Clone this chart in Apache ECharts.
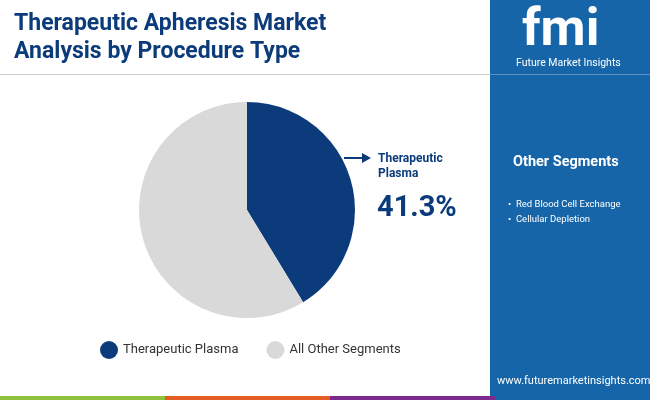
<!DOCTYPE html><html><head><meta charset="utf-8">
<script src="https://cdn.jsdelivr.net/npm/echarts@6/dist/echarts.min.js"></script>
<style>html,body{margin:0;padding:0;}#c{width:650px;height:400px;}</style></head><body><div id="c"></div>
<script>
const categories = ["Therapeutic Plasma", "All Other Segments"];
const values = [41.3, 58.7];
const otherSegments = ["Red Blood Cell Exchange", "Cellular Depletion"];
const colors = ["#0b3b7a", "#d9d9d9"];
const navy = "#0b3b7a", panel = "#1565a8";
const chart = echarts.init(document.getElementById('c'));
chart.setOption({
  animation:false,
  legend:{bottom:36,left:95,icon:'circle',itemWidth:18,itemHeight:18,itemGap:28,
    textStyle:{fontFamily:'Roboto',fontSize:13,color:'#333'},data:categories},
  series:[{type:'pie',center:[247,210],radius:[0,108],startAngle:90,clockwise:true,
    label:{show:false},labelLine:{show:false},silent:true,
    data:categories.map((n,i)=>({name:n,value:values[i],itemStyle:{color:colors[i]}}))}],
  graphic:[
    {type:'rect',shape:{x:490,y:0,width:160,height:400},style:{fill:panel},z:-1},
    {type:'rect',shape:{x:0,y:396,width:165,height:4},style:{fill:'#8dc13f'}},
    {type:'rect',shape:{x:165,y:396,width:165,height:4},style:{fill:'#e35d25'}},
    {type:'rect',shape:{x:330,y:396,width:165,height:4},style:{fill:'#7b2b8e'}},
    {type:'rect',shape:{x:0,y:74,width:490,height:1},style:{fill:'#cccccc'}},
    {type:'text',left:14,top:10,style:{text:'Therapeutic Apheresis Market\nAnalysis by Procedure Type',fontFamily:'Roboto',fontWeight:'bold',fontSize:23,lineHeight:28,fill:navy}},
    {type:'text',left:522,top:6,style:{text:'fmi',fontFamily:'Roboto',fontWeight:'bold',fontSize:52,fill:'#fff'}},
    {type:'text',left:516,top:58,style:{text:'Future Market Insights',fontFamily:'Roboto',fontSize:10.5,fill:'#fff'}},
    {type:'rect',shape:{x:490,y:74,width:160,height:1},style:{fill:'#5a8fc4'}},
    {type:'text',left:513,top:155,style:{text:'Other Segments',fontFamily:'Roboto',fontWeight:'bold',fontSize:14.5,fill:'#fff'}},
    {type:'text',left:508,top:197,style:{text:otherSegments.map(s=>'•  '+s).join('\n'),fontFamily:'Roboto',fontSize:9.5,lineHeight:15,fill:'#fff'}},
    {type:'text',left:497,top:376,style:{text:'www.futuremarketinsights.com',fontFamily:'Roboto',fontSize:11,fill:'#fff'}},
    {type:'line',shape:{x1:344,y1:158,x2:364,y2:158},style:{stroke:navy,lineWidth:2}},
    {type:'polygon',shape:{points:[[362,153],[371,158],[362,163]]},style:{fill:navy}},
    {type:'text',left:378,top:151,style:{text:'Therapeutic\nPlasma',fontFamily:'Roboto',fontWeight:'bold',fontSize:12,lineHeight:15,fill:navy}},
    {type:'text',left:377,top:194,style:{text:values[0]+'%',fontFamily:'Roboto',fontWeight:'bold',fontSize:29,fill:navy}}
  ]
});
</script></body></html>
